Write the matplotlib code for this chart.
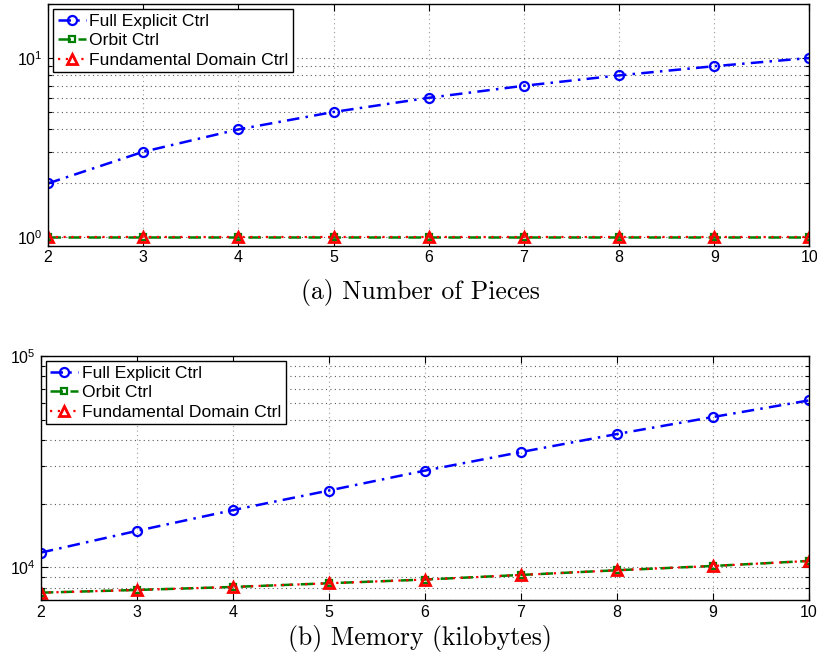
import matplotlib
matplotlib.use("Agg")
from matplotlib import pyplot as plt
from matplotlib.ticker import LogLocator, NullFormatter

plt.rcParams['font.family'] = ['Liberation Sans', 'DejaVu Sans']

# data
n = [2, 3, 4, 5, 6, 7, 8, 9, 10]
labels = ["Full Explicit Ctrl", "Orbit Ctrl", "Fundamental Domain Ctrl"]

pieces_full = [2, 3, 4, 5, 6, 7, 8, 9, 10]
pieces_orbit = [1, 1, 1, 1, 1, 1, 1, 1, 1]
pieces_fund = [1, 1, 1, 1, 1, 1, 1, 1, 1]

mem_full = [11730, 14860, 18630, 23070, 28660, 35080, 42700, 51400, 61600]
mem_orbit = [7580, 7807, 8066, 8400, 8744, 9194, 9678, 10140, 10710]
mem_fund = [7580, 7807, 8066, 8400, 8744, 9194, 9678, 10140, 10710]

captions = ["(a) Number of Pieces", "(b) Memory (kilobytes)"]


def draw_panel(ax, full, orbit, fund, ylim):
    ax.plot(n, full, color=(0, 0, 1), linestyle=(0, (5, 2.5, 1, 2.5)),
            linewidth=1.8, marker='o', markersize=6.5,
            markerfacecolor='none', markeredgewidth=1.6, label=labels[0])
    ax.plot(n, orbit, color=(0, 0.5, 0), linestyle=(0, (5, 3)),
            linewidth=1.8, marker='s', markersize=4.5,
            markerfacecolor='none', markeredgewidth=1.6, label=labels[1])
    ax.plot(n, fund, color=(1, 0, 0), linestyle=(0, (1, 2.5)),
            linewidth=1.6, marker='^', markersize=7,
            markerfacecolor='none', markeredgewidth=2, label=labels[2])
    ax.set_yscale('log')
    ax.set_xlim(2, 10)
    ax.set_ylim(*ylim)
    ax.set_xticks(n)
    ax.yaxis.set_minor_locator(LogLocator(base=10, subs=range(2, 10)))
    ax.yaxis.set_minor_formatter(NullFormatter())
    ax.tick_params(which='both', direction='in', top=True, right=True,
                   labelsize=11.5, width=0.8)
    ax.tick_params(which='major', length=5)
    ax.tick_params(which='minor', length=3)
    ax.grid(True, which='major', axis='x', color='0.6',
            linestyle=(0, (1, 3)), linewidth=0.8)
    ax.grid(True, which='both', axis='y', color='0.35',
            linestyle=(0, (1, 3)), linewidth=0.8)
    for s in ax.spines.values():
        s.set_linewidth(1.0)
    leg = ax.legend(loc='upper left', fontsize=12.6, fancybox=False,
                    edgecolor='black', framealpha=1, handlelength=1.6,
                    handletextpad=0.2, labelspacing=0.25, borderpad=0.25,
                    borderaxespad=0.3)
    leg.get_frame().set_linewidth(1.0)


fig = plt.figure(figsize=(8.17, 6.62), dpi=100)
ax1 = fig.add_axes([0.0588, 0.629, 0.932, 0.365])
ax2 = fig.add_axes([0.050, 0.0937, 0.940, 0.3686])

draw_panel(ax1, pieces_full, pieces_orbit, pieces_fund, (0.9, 20))
draw_panel(ax2, mem_full, mem_orbit, mem_fund, (7000, 1e5))

fig.text(0.514, 1 - 292 / 662, captions[0], fontfamily='cmr10',
         fontsize=18.5, ha='center', va='center')
fig.text(0.514, 1 - 639 / 662, captions[1], fontfamily='cmr10',
         fontsize=18.5, ha='center', va='center')

fig.savefig("out.png", dpi=100)
